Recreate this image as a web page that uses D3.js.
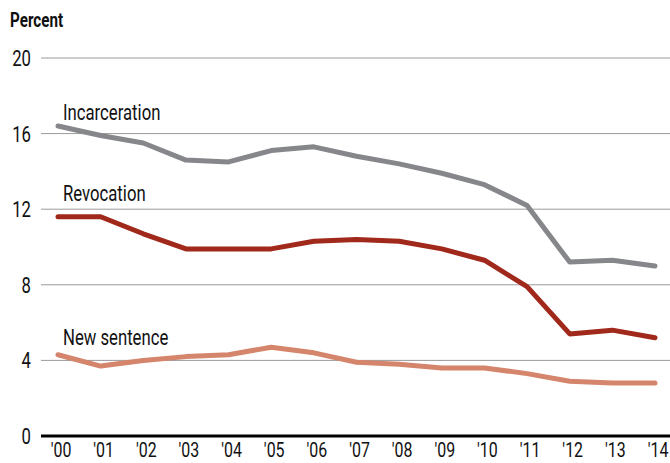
<!DOCTYPE html>
<html>
<head>
<meta charset="utf-8">
<script src="https://cdn.jsdelivr.net/npm/d3@7"></script>
<style>
  body { margin: 0; background: #fff; }
  text { font-family: Roboto, "Noto Sans", sans-serif; fill: #111; }
</style>
</head>
<body>
<div id="chart"></div>
<script>
// years and tick labels
const years = ["'00","'01","'02","'03","'04","'05","'06","'07","'08","'09","'10","'11","'12","'13","'14"];
const yTicks = [0, 4, 8, 12, 16, 20];

// series values, percent
const incarceration = [16.4, 15.9, 15.5, 14.6, 14.5, 15.1, 15.3, 14.8, 14.4, 13.9, 13.3, 12.2, 9.2, 9.3, 9.0];
const revocation    = [11.6, 11.6, 10.7, 9.9, 9.9, 9.9, 10.3, 10.4, 10.3, 9.9, 9.3, 7.9, 5.4, 5.6, 5.2];
const newSentence   = [4.3, 3.7, 4.0, 4.2, 4.3, 4.7, 4.4, 3.9, 3.8, 3.6, 3.6, 3.3, 2.9, 2.8, 2.8];

const W = 670, H = 463;
const SX = 0.76; // squeeze text to look condensed
const svg = d3.select('#chart').append('svg')
    .attr('width', W).attr('height', H);

const x = d3.scalePoint().domain(years).range([58, 655]);
const y = d3.scaleLinear().domain([0, 20]).range([436, 58]);

const squeeze = (px, py) => `translate(${px},${py}) scale(${SX},1)`;

// title
svg.append('text')
    .attr('transform', squeeze(10, 27))
    .style('font-size', '20px').style('font-weight', 'bold')
    .text('Percent');

// gridlines + y labels
svg.append('g').selectAll('line')
    .data(yTicks.filter(d => d > 0))
    .join('line')
    .attr('x1', 41).attr('x2', W)
    .attr('y1', d => y(d)).attr('y2', d => y(d))
    .attr('stroke', '#9a9a9a').attr('stroke-width', 1);

svg.append('g').selectAll('text')
    .data(yTicks)
    .join('text')
    .attr('transform', d => squeeze(31, y(d) + 8))
    .attr('text-anchor', 'end')
    .style('font-size', '22px')
    .text(d => d);

// x axis baseline
svg.append('line')
    .attr('x1', 41).attr('x2', W)
    .attr('y1', y(0)).attr('y2', y(0))
    .attr('stroke', '#000').attr('stroke-width', 3);

svg.append('g').selectAll('text')
    .data(years)
    .join('text')
    .attr('transform', d => squeeze(x(d) + 3, 457))
    .attr('text-anchor', 'middle')
    .style('font-size', '21px')
    .text(d => d);

// lines
const line = d3.line()
    .x((d, i) => x(years[i]))
    .y(d => y(d));

const series = [
    { name: 'Incarceration', values: incarceration, color: '#86878b', ly: 120 },
    { name: 'Revocation', values: revocation, color: '#a0291b', ly: 201 },
    { name: 'New sentence', values: newSentence, color: '#d4856c', ly: 345 }
];

svg.append('g').selectAll('path')
    .data(series)
    .join('path')
    .attr('d', d => line(d.values))
    .attr('fill', 'none')
    .attr('stroke', d => d.color)
    .attr('stroke-width', 5)
    .attr('stroke-linecap', 'round')
    .attr('stroke-linejoin', 'round');

svg.append('g').selectAll('text')
    .data(series)
    .join('text')
    .attr('transform', d => squeeze(63, d.ly))
    .style('font-size', '22px')
    .text(d => d.name);
</script>
</body>
</html>
